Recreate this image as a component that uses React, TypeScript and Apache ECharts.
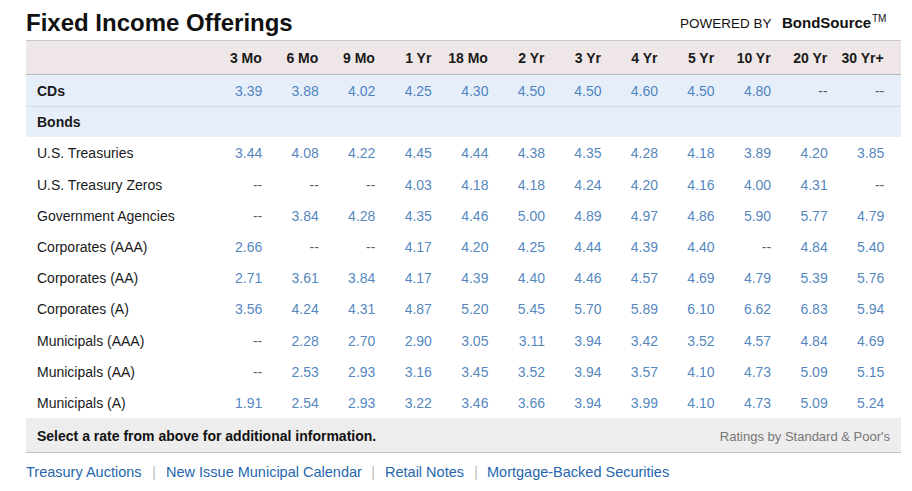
import React, { useEffect, useRef } from "react";
import * as echarts from "echarts";

const tenors = ["3 Mo", "6 Mo", "9 Mo", "1 Yr", "18 Mo", "2 Yr", "3 Yr", "4 Yr", "5 Yr", "10 Yr", "20 Yr", "30 Yr+"];
const rowNames = [
  "CDs",
  "Bonds",
  "U.S. Treasuries",
  "U.S. Treasury Zeros",
  "Government Agencies",
  "Corporates (AAA)",
  "Corporates (AA)",
  "Corporates (A)",
  "Municipals (AAA)",
  "Municipals (AA)",
  "Municipals (A)",
];
const boldRows = ["CDs", "Bonds"];

const cds = [3.39, 3.88, 4.02, 4.25, 4.3, 4.5, 4.5, 4.6, 4.5, 4.8, null, null];
const bonds: (number | null | undefined)[] = []; // section header, no values
const treasuries = [3.44, 4.08, 4.22, 4.45, 4.44, 4.38, 4.35, 4.28, 4.18, 3.89, 4.2, 3.85];
const treasuryZeros = [null, null, null, 4.03, 4.18, 4.18, 4.24, 4.2, 4.16, 4.0, 4.31, null];
const agencies = [null, 3.84, 4.28, 4.35, 4.46, 5.0, 4.89, 4.97, 4.86, 5.9, 5.77, 4.79];
const corpAAA = [2.66, null, null, 4.17, 4.2, 4.25, 4.44, 4.39, 4.4, null, 4.84, 5.4];
const corpAA = [2.71, 3.61, 3.84, 4.17, 4.39, 4.4, 4.46, 4.57, 4.69, 4.79, 5.39, 5.76];
const corpA = [3.56, 4.24, 4.31, 4.87, 5.2, 5.45, 5.7, 5.89, 6.1, 6.62, 6.83, 5.94];
const muniAAA = [null, 2.28, 2.7, 2.9, 3.05, 3.11, 3.94, 3.42, 3.52, 4.57, 4.84, 4.69];
const muniAA = [null, 2.53, 2.93, 3.16, 3.45, 3.52, 3.94, 3.57, 4.1, 4.73, 5.09, 5.15];
const muniA = [1.91, 2.54, 2.93, 3.22, 3.46, 3.66, 3.94, 3.99, 4.1, 4.73, 5.09, 5.24];

const rowValues = [cds, bonds, treasuries, treasuryZeros, agencies, corpAAA, corpAA, corpA, muniAAA, muniAA, muniA];

const links = ["Treasury Auctions", "New Issue Municipal Calendar", "Retail Notes", "Mortgage-Backed Securities"];

const FONT = 'Arial, "Liberation Sans", Helvetica, sans-serif';
const BLUE = "#2566ae";
const DARK = "#1a1a1a";

export default function App() {
  const ref = useRef<HTMLDivElement>(null);

  useEffect(() => {
    if (!ref.current) return;
    const chart = echarts.init(ref.current, undefined, { renderer: "svg" });

    const cells: any[] = [];
    rowValues.forEach((vals, r) => {
      if (vals.length === 0) return;
      tenors.forEach((_, c) => {
        const v = vals[c];
        const has = v !== null && v !== undefined;
        cells.push({
          value: [c, r, has ? v : "--"],
          label: { color: has ? BLUE : "#333" },
        });
      });
    });

    const linkXs = [26, 166, 385, 487];
    const sepXs = [154, 373, 476];

    const graphic: any[] = [
      // header band
      { type: "rect", z: -10, shape: { x: 26, y: 40, width: 875, height: 35 }, style: { fill: "#efe7e7" } },
      { type: "line", z: -9, shape: { x1: 26, y1: 40.5, x2: 901, y2: 40.5 }, style: { stroke: "#c9c9c9", lineWidth: 1 } },
      { type: "line", z: -9, shape: { x1: 26, y1: 74.5, x2: 901, y2: 74.5 }, style: { stroke: "#b9b9b9", lineWidth: 1 } },
      // CDs / Bonds bands
      { type: "rect", z: -10, shape: { x: 26, y: 75, width: 875, height: 62 }, style: { fill: "#e6eefa" } },
      { type: "line", z: -9, shape: { x1: 26, y1: 106.5, x2: 901, y2: 106.5 }, style: { stroke: "#d3dbe9", lineWidth: 1 } },
      // footer band
      { type: "rect", z: -10, shape: { x: 26, y: 418, width: 875, height: 34 }, style: { fill: "#ededed" } },
      { type: "line", z: -9, shape: { x1: 26, y1: 452.5, x2: 901, y2: 452.5 }, style: { stroke: "#c2c2c2", lineWidth: 1 } },
      // title
      {
        type: "text",
        x: 26,
        y: 22,
        style: { text: "Fixed Income Offerings", font: `bold 24px ${FONT}`, fill: "#111", verticalAlign: "middle", align: "left" },
      },
      {
        type: "text",
        x: 680,
        y: 23,
        style: { text: "POWERED BY", font: `13.5px ${FONT}`, fill: "#111", verticalAlign: "middle", align: "left" },
      },
      {
        type: "text",
        x: 782,
        y: 22,
        style: { text: "BondSource", font: `bold 15px ${FONT}`, fill: "#111", verticalAlign: "middle", align: "left" },
      },
      {
        type: "text",
        x: 872,
        y: 18,
        style: { text: "TM", font: `10px ${FONT}`, fill: "#111", verticalAlign: "middle", align: "left" },
      },
      // footer texts
      {
        type: "text",
        x: 37,
        y: 436,
        style: {
          text: "Select a rate from above for additional information.",
          font: `bold 14px ${FONT}`,
          fill: "#111",
          verticalAlign: "middle",
          align: "left",
        },
      },
      {
        type: "text",
        x: 890,
        y: 436,
        style: { text: "Ratings by Standard & Poor's", font: `13px ${FONT}`, fill: "#777", verticalAlign: "middle", align: "right" },
      },
    ];
    links.forEach((t, i) => {
      graphic.push({
        type: "text",
        x: linkXs[i],
        y: 472,
        style: { text: t, font: `14.5px ${FONT}`, fill: BLUE, verticalAlign: "middle", align: "left" },
      });
    });
    sepXs.forEach((x) => {
      graphic.push({
        type: "text",
        x,
        y: 472,
        style: { text: "|", font: `14px ${FONT}`, fill: "#b8b8b8", verticalAlign: "middle", align: "center" },
      });
    });

    chart.setOption({
      animation: false,
      backgroundColor: "#ffffff",
      textStyle: { fontFamily: FONT },
      grid: { left: 233.5, top: 75.4, width: 684, height: 343.2, containLabel: false },
      xAxis: {
        type: "category",
        data: tenors,
        position: "top",
        boundaryGap: true,
        axisLine: { show: false },
        axisTick: { show: false },
        splitLine: { show: false },
        axisLabel: {
          interval: 0,
          align: "right",
          verticalAlign: "middle",
          margin: 17,
          fontSize: 14,
          fontWeight: "bold",
          color: DARK,
          fontFamily: FONT,
        },
      },
      yAxis: {
        type: "category",
        data: rowNames,
        inverse: true,
        boundaryGap: true,
        axisLine: { show: false },
        axisTick: { show: false },
        splitLine: { show: false },
        axisLabel: {
          interval: 0,
          align: "left",
          verticalAlign: "middle",
          margin: 196.5,
          fontSize: 14,
          color: DARK,
          fontFamily: FONT,
          formatter: (v: string) => (boldRows.includes(v) ? `{b|${v}}` : `{n|${v}}`),
          rich: {
            b: { fontWeight: "bold", fontSize: 14, color: DARK, fontFamily: FONT },
            n: { fontSize: 14, color: DARK, fontFamily: FONT },
          },
        },
      },
      series: [
        {
          type: "scatter",
          data: cells,
          symbol: "circle",
          symbolSize: 1,
          itemStyle: { color: "rgba(0,0,0,0)" },
          silent: true,
          label: {
            show: true,
            position: "left",
            distance: -1,
            fontSize: 14,
            fontFamily: FONT,
            formatter: (p: any) => {
              const v = p.value[2];
              return typeof v === "number" ? v.toFixed(2) : "--";
            },
          },
          labelLayout: { hideOverlap: false },
        },
      ],
      graphic,
    });

    return () => {
      chart.dispose();
    };
  }, []);

  return <div ref={ref} style={{ position: "fixed", left: 0, top: 0, width: 912, height: 491, background: "#fff" }} />;
}
